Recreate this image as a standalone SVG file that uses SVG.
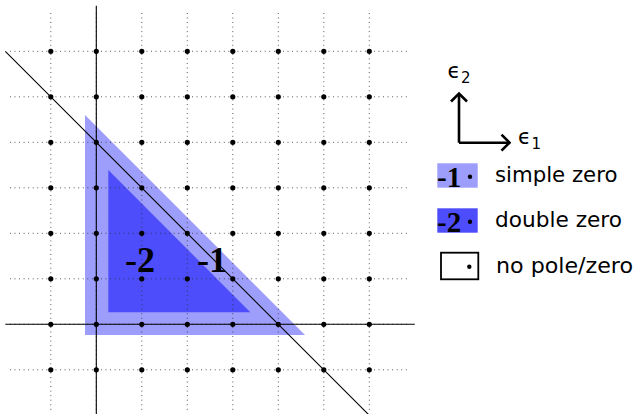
<svg xmlns="http://www.w3.org/2000/svg" width="638" height="414" viewBox="0 0 638 414">
<defs>
<style>
.grid{fill:none;stroke:#333;stroke-width:0.9;stroke-dasharray:0.9 3.65}
.axis{fill:none;stroke:#000;stroke-width:1.1}
.dots{fill:none;stroke:#000;stroke-width:5.2;stroke-linecap:round}
.arr{fill:none;stroke:#000;stroke-width:2.6;stroke-linejoin:miter}
.lbl{font-family:"Liberation Serif","DejaVu Serif",serif;font-weight:bold;fill:#000}
.leg{font-family:"DejaVu Sans","Liberation Sans",sans-serif;font-size:21px;fill:#000}
.eps{font-family:"DejaVu Sans","Liberation Sans",sans-serif;font-size:21px;fill:#000}
.sub{font-family:"DejaVu Sans","Liberation Sans",sans-serif;font-size:15px;fill:#000}
.light{fill:#9d9dfb}
.dark{fill:#4d4dfb}
</style>
</defs>
<rect width="638" height="414" fill="#fff"/>
<g id="regions">
<polygon class="light" points="85,115 85,335 305,335"/>
<polygon class="dark" points="108.3,170 108.3,312.3 250.3,312.3"/>
</g>
<g id="grid">
<path class="grid" d="M10 51.3H407M10 96.8H407M10 142.3H407M10 187.8H407M10 233.3H407M10 278.8H407M10 324.3H407M10 369.8H407"/>
<path class="grid" d="M50.8 13V411M96.3 13V411M141.8 13V411M187.3 13V411M232.8 13V411M278.3 13V411M323.8 13V411M369.3 13V411"/>
</g>
<g id="connectors">
<path class="axis" d="M5.3 324.3H414.8M96.3 5.8V414"/>
<path class="axis" d="M5.3 51.3L369.3 415.3"/>
</g>
<g id="points">
<path class="dots" d="M50.8 51.3h0M96.3 51.3h0M141.8 51.3h0M187.3 51.3h0M232.8 51.3h0M278.3 51.3h0M323.8 51.3h0M369.3 51.3h0
M50.8 96.8h0M96.3 96.8h0M141.8 96.8h0M187.3 96.8h0M232.8 96.8h0M278.3 96.8h0M323.8 96.8h0M369.3 96.8h0
M50.8 142.3h0M96.3 142.3h0M141.8 142.3h0M187.3 142.3h0M232.8 142.3h0M278.3 142.3h0M323.8 142.3h0M369.3 142.3h0
M50.8 187.8h0M96.3 187.8h0M141.8 187.8h0M187.3 187.8h0M232.8 187.8h0M278.3 187.8h0M323.8 187.8h0M369.3 187.8h0
M50.8 233.3h0M96.3 233.3h0M141.8 233.3h0M187.3 233.3h0M232.8 233.3h0M278.3 233.3h0M323.8 233.3h0M369.3 233.3h0
M50.8 278.8h0M96.3 278.8h0M141.8 278.8h0M187.3 278.8h0M232.8 278.8h0M278.3 278.8h0M323.8 278.8h0M369.3 278.8h0
M50.8 324.3h0M96.3 324.3h0M141.8 324.3h0M187.3 324.3h0M232.8 324.3h0M278.3 324.3h0M323.8 324.3h0M369.3 324.3h0
M50.8 369.8h0M96.3 369.8h0M141.8 369.8h0M187.3 369.8h0M232.8 369.8h0M278.3 369.8h0M323.8 369.8h0M369.3 369.8h0"/>
</g>
<g id="label-double">
<text class="lbl" x="125" y="272.3" font-size="36">-2</text>
</g>
<g id="label-simple">
<text class="lbl" x="197" y="272.3" font-size="36">-1</text>
</g>
<g id="legend-axes">
<path class="arr" d="M459 142.7V94M509 142.7H459"/>
<path class="arr" d="M451 101.5L459 93.5L467 101.5"/>
<path class="arr" d="M501.5 134.7L509.5 142.7L501.5 150.7"/>
<text class="eps" x="447.5" y="78.3">ϵ</text><text class="sub" x="461" y="83.3">2</text>
<text class="eps" x="518" y="144.3">ϵ</text><text class="sub" x="531.5" y="149">1</text>
</g>
<g id="legend-simple">
<rect class="light" x="437.3" y="163.3" width="40.4" height="24.4"/>
<text class="lbl" x="437" y="187.3" font-size="29">-1</text>
<circle cx="470" cy="176.7" r="2.2"/>
<text class="leg" x="495" y="181.7" textLength="122.5" lengthAdjust="spacingAndGlyphs">simple zero</text>
</g>
<g id="legend-double">
<rect class="dark" x="437.3" y="208.3" width="40.4" height="24.4"/>
<text class="lbl" x="437" y="232.3" font-size="29">-2</text>
<circle cx="470" cy="221.7" r="2.2"/>
<text class="leg" x="495" y="226.7" textLength="127" lengthAdjust="spacingAndGlyphs">double zero</text>
</g>
<g id="legend-none">
<rect x="441" y="252.7" width="37.3" height="26.6" fill="#fff" stroke="#000" stroke-width="1.8"/>
<circle cx="469.3" cy="266.7" r="2.2"/>
<text class="leg" x="496" y="272.7" textLength="137" lengthAdjust="spacingAndGlyphs">no pole/zero</text>
</g>
</svg>
